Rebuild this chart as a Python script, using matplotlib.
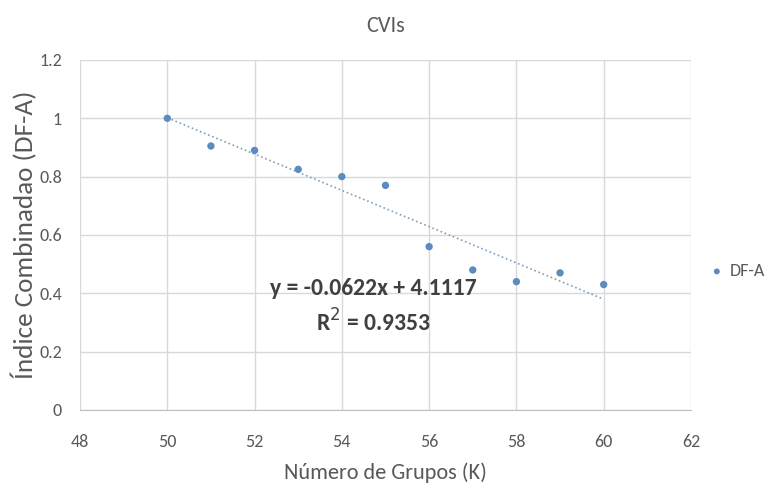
import matplotlib
matplotlib.use("Agg")
import matplotlib.pyplot as plt
import numpy as np

k_values = [50, 51, 52, 53, 54, 55, 56, 57, 58, 59, 60]
df_a = [1.0, 0.905, 0.89, 0.825, 0.80, 0.77, 0.56, 0.48, 0.44, 0.47, 0.43]
slope = -0.0622
intercept = 4.1117
r2 = 0.9353
x_ticks = [48, 50, 52, 54, 56, 58, 60, 62]
y_ticks = [0, 0.2, 0.4, 0.6, 0.8, 1.0, 1.2]
y_tick_labels = ["0", "0.2", "0.4", "0.6", "0.8", "1", "1.2"]

plt.rcParams['font.family'] = ['Carlito', 'DejaVu Sans']
txt = '#595959'
mc = '#5a8cc0'

fig = plt.figure(figsize=(7.73, 4.93), dpi=100)
ax = fig.add_axes([0.1035, 0.1684, 0.7904, 0.71])

xs = np.array([k_values[0], k_values[-1]])
ax.plot(xs, slope * xs + intercept, linestyle=':', color='#7f9fbf', lw=1.2, zorder=2)
ax.scatter(k_values, df_a, s=28, color=mc, zorder=3, label='DF-A', edgecolors='none')

ax.set_xlim(48, 62)
ax.set_ylim(0, 1.2)
ax.set_xticks(x_ticks)
ax.set_yticks(y_ticks)
ax.set_yticklabels(y_tick_labels)
ax.grid(True, color='#d9d9d9', lw=1)
ax.set_axisbelow(True)
for s in ['top', 'right', 'left']:
    ax.spines[s].set_visible(False)
ax.spines['bottom'].set_color('#bfbfbf')
ax.tick_params(length=0, labelsize=13, colors=txt)
ax.tick_params(axis='x', pad=17)
ax.tick_params(axis='y', pad=13)

ax.set_title('CVIs', fontsize=16, color=txt, pad=20)
ax.set_xlabel('Número de Grupos (K)', fontsize=16, color=txt, labelpad=9)
ax.set_ylabel('Índice Combinadao (DF-A)', fontsize=19.5, color=txt, labelpad=1)

ax.text(54.73, 0.418, 'y = -0.0622x + 4.1117', ha='center', va='center',
        fontsize=17, fontweight='bold', color='#404040')
ax.text(54.73, 0.302, 'R$^2$ = 0.9353', ha='center', va='center',
        fontsize=17, fontweight='bold', color='#404040')

fig.legend(loc='center left', bbox_to_anchor=(0.918, 0.45), frameon=False,
           fontsize=13, labelcolor=txt, handlelength=0.8, handletextpad=0.3,
           borderpad=0, borderaxespad=0, markerscale=0.8)

fig.savefig('out.png', dpi=100)
